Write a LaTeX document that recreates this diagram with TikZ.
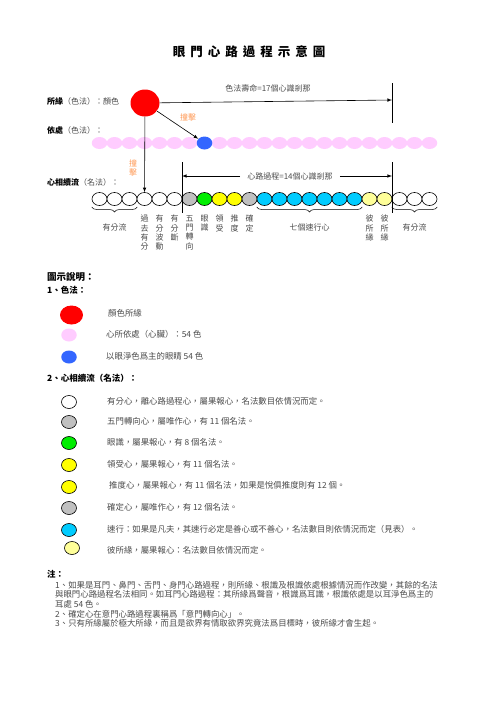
\documentclass[tikz,border=0pt]{standalone}
\usepackage{fontspec}
\setmainfont{Noto Sans CJK TC}
\usetikzlibrary{shapes.geometric}
\usetikzlibrary{decorations.pathreplacing}

\definecolor{txtgray}{HTML}{4A4A4A}
\definecolor{hitorange}{HTML}{FF9955}
\definecolor{vatthupink}{HTML}{FFCCFF}
\definecolor{eyeblue}{HTML}{3366FF}
\definecolor{kiriya}{HTML}{C0C0C0}
\definecolor{vinnana}{HTML}{00EE00}
\definecolor{vipaka}{HTML}{FFFF00}
\definecolor{javana}{HTML}{00CCFF}
\definecolor{tadar}{HTML}{FFFF99}

\begin{document}
\begin{tikzpicture}[x=1pt,y=-1pt,
    citta/.style={ellipse,draw,line width=0.6pt,minimum width=15pt,minimum height=13pt,inner sep=0pt},
    vatthu/.style={ellipse,fill=vatthupink,minimum width=15.5pt,minimum height=12pt,inner sep=0pt},
    lab/.style={font=\fontsize{8}{9.3}\selectfont,text=txtgray,inner sep=0pt},
    hit/.style={lab,text=hitorange,align=center},
    vlab/.style={lab,align=center,anchor=north},
    head/.style={font=\fontsize{8.5}{10}\selectfont\bfseries,inner sep=0pt,anchor=west},
    note/.style={font=\fontsize{8.4}{9.6}\selectfont,text=txtgray,inner sep=0pt,anchor=west},
    bracket/.style={decorate,decoration={brace,mirror,amplitude=5pt},line width=0.5pt},
    ]
  \useasboundingbox (0,0) rectangle (496,702);

  % title
  \node[font=\fontsize{12.5}{14}\selectfont\bfseries\addfontfeature{LetterSpace=40}] (title) at (249,52) {眼門心路過程示意圖};

  % row labels
  \node[lab,anchor=west] (l1) at (47,101) {{\bfseries\color{black}所緣}（色法）：顏色};
  \node[lab,anchor=west] (l2) at (47,130) {{\bfseries\color{black}依處}（色法）：};
  \node[lab,anchor=west] (l3) at (47,182) {{\bfseries\color{black}心相續流}（名法）：};

  % rupa object
  \node[ellipse,fill=red,minimum width=29pt,minimum height=27pt,inner sep=0pt] (red) at (145,103) {};

  % heart base row
  \foreach \i in {0,...,22}
    \node[vatthu] (p\i) at (99.5+15*\i,143) {};
  \node[vatthu,fill=eyeblue,minimum height=13pt] (eye) at (p7) {};

  % mind moments
  \foreach \c [count=\i from 0] in {white,white,white,white,white,white,kiriya,vinnana,vipaka,vipaka,kiriya,
      javana,javana,javana,javana,javana,javana,javana,tadar,tadar,white,white,white}
    \node[citta,fill=\c] (m\i) at (99.5+15*\i,199) {};

  % life span of the object
  \node[lab] (life) at (268,88) {色法壽命=17個心識剎那};
  \coordinate (lifeend) at (392,100);
  \coordinate (lifetop) at (392,83);
  \coordinate (lifebot) at (392,123);
  \draw[-latex,line width=0.6pt] (red) -- (lifeend);
  \draw[line width=0.6pt] (lifetop) -- (lifebot);

  % impact
  \draw[-latex,line width=0.6pt] (red) -- (eye);
  \node[hit] (hit1) at (188,117) {撞擊};
  \draw[-latex,line width=0.6pt] (red) -- (m3);
  \node[hit,font=\fontsize{8}{9}\selectfont] (hit2) at (133,168) {撞\\擊};

  % process span
  \coordinate (vtop) at (182,162);
  \coordinate (vbot) at (182,213);
  \coordinate (wtop) at (392,162);
  \coordinate (wbot) at (392,213);
  \draw[line width=0.6pt] (vtop) -- (vbot);
  \draw[line width=0.6pt] (wtop) -- (wbot);
  \node[lab,inner xsep=7pt] (vithi) at (290,176) {心路過程=14個心識剎那};
  \coordinate (vl) at (182,176);
  \coordinate (vr) at (392,176);
  \draw[-latex,line width=0.6pt] (vithi.west) -- (vl);
  \draw[-latex,line width=0.6pt] (vithi.east) -- (vr);

  % braces
  \draw[bracket] (m0.west |- 0,207) -- (m2.east |- 0,207) node[lab,midway,below=17pt] {有分流};
  \draw[bracket] (m11.west |- 0,207) -- (m17.east |- 0,207) node[lab,midway,below=17pt] {七個速行心};
  \draw[bracket] (m20.west |- 0,207) -- (m22.east |- 0,207) node[lab,midway,below=17pt] {有分流};

  % names of the moments
  \node[vlab] at (m3 |- 0,215) {過\\去\\有\\分};
  \node[vlab] at (m4 |- 0,215) {有\\分\\波\\動};
  \node[vlab] at (m5 |- 0,215) {有\\分\\斷};
  \node[vlab] at (m6 |- 0,215) {五\\門\\轉\\向};
  \node[vlab] at (m7 |- 0,215) {眼\\識};
  \node[vlab] at (m8 |- 0,215) {領\\受};
  \node[vlab] at (m9 |- 0,215) {推\\度};
  \node[vlab] at (m10 |- 0,215) {確\\定};
  \node[vlab] at (m18 |- 0,215) {彼\\所\\緣};
  \node[vlab] at (m19 |- 0,215) {彼\\所\\緣};

  % legend
  \node[head,font=\fontsize{9.5}{11}\selectfont\bfseries] (key) at (47,277) {圖示說明：};
  \node[head] (key1) at (47,290) {1、色法：};
  \node[ellipse,fill=red,minimum width=23pt,minimum height=19pt,inner sep=0pt] (k1) at (71.5,315) {};
  \node[vatthu,minimum height=13pt] (k2) at (69,335) {};
  \node[vatthu,fill=eyeblue,minimum height=13pt] (k3) at (69,357) {};
  \node[note] at (108,313) {顏色所緣};
  \node[note] at (106,334) {心所依處（心臟）：54 色};
  \node[note] at (106,356) {以眼淨色爲主的眼睛 54 色};

  \node[head] (key2) at (47,378) {2、心相續流（名法）：};
  \node[citta,fill=white] (c1) at (69,402) {};
  \node[citta,fill=kiriya] (c2) at (69,422) {};
  \node[citta,fill=vinnana] (c3) at (69,443) {};
  \node[citta,fill=vipaka] (c4) at (69,465) {};
  \node[citta,fill=vipaka] (c5) at (69,487) {};
  \node[citta,fill=kiriya] (c6) at (69,508) {};
  \node[citta,fill=javana] (c7) at (69,530) {};
  \node[citta,fill=tadar] (c8) at (72,548) {};
  \node[note] at (107,401) {有分心，離心路過程心，屬果報心，名法數目依情況而定。};
  \node[note] at (107,421) {五門轉向心，屬唯作心，有 11 個名法。};
  \node[note] at (107,442) {眼識，屬果報心，有 8 個名法。};
  \node[note] at (107,464) {領受心，屬果報心，有 11 個名法。};
  \node[note] at (109,485) {推度心，屬果報心，有 11 個名法，如果是悅俱推度則有 12 個。};
  \node[note] at (107,507) {確定心，屬唯作心，有 12 個名法。};
  \node[note] at (107,529) {速行：如果是凡夫，其速行必定是善心或不善心，名法數目則依情況而定（見表）。};
  \node[note] at (107,550) {彼所緣，屬果報心：名法數目依情況而定。};

  % notes
  \node[head] (key3) at (47,574) {注：};
  \node[note,anchor=north west,align=left] (notes) at (55,581) {%
    1、如果是耳門、鼻門、舌門、身門心路過程，則所緣、根識及根識依處根據情況而作改變，其餘的名法\\
    與眼門心路過程名法相同。如耳門心路過程：其所緣爲聲音，根識爲耳識，根識依處是以耳淨色爲主的\\
    耳處 54 色。\\
    2、確定心在意門心路過程裏稱爲「意門轉向心」。\\
    3、只有所緣屬於極大所緣，而且是欲界有情取欲界究竟法爲目標時，彼所緣才會生起。};
\end{tikzpicture}
\end{document}
